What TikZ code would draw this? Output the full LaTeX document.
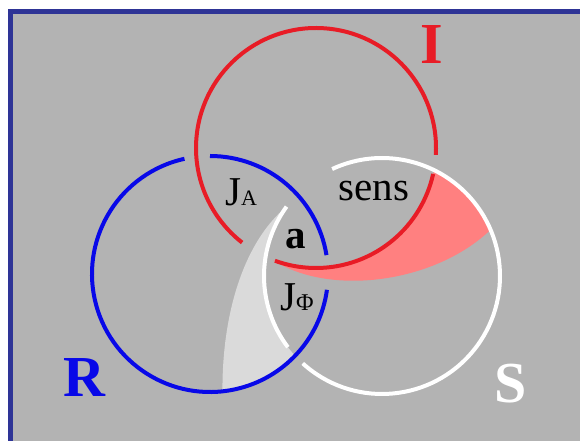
\documentclass[tikz,border=0pt]{standalone}
\usepackage{fontspec}
\setmainfont{Liberation Serif}
\usetikzlibrary{calc}
\definecolor{bggray}{RGB}{179,179,179}
\definecolor{framebl}{RGB}{46,52,150}
\definecolor{ringred}{RGB}{232,28,38}
\definecolor{ringblue}{RGB}{8,8,232}
\definecolor{pinkfill}{RGB}{255,128,128}
\definecolor{lunegray}{RGB}{218,218,218}

\begin{document}
\begin{tikzpicture}[x=1pt,y=1pt,line width=4pt,
    bigletter/.style={inner sep=0pt,font=\bfseries\fontsize{58}{58}\selectfont},
    txt/.style={inner sep=0pt,font=\fontsize{41}{41}\selectfont}]
    \clip (0,0) rectangle (580,441);
    \fill[white] (0,0) rectangle (580,441);
    \fill[bggray] (10.5,-10) rectangle (600,429.5);
    \draw[framebl,line width=5pt] (10.5,-10) -- (10.5,429.5) -- (600,429.5);
    % centres of the three rings
    \coordinate (I) at (316,293);
    \coordinate (R) at (210,167);
    \coordinate (S) at (382,165);
    % shaded pieces
    \fill[pinkfill] ($(I)+(249:120)$) coordinate (p0)
      arc[start angle=249,end angle=349.4,radius=120]
      arc[start angle=63.8,end angle=23,radius=118]
      .. controls (435,158) and (330,144) .. (p0) -- cycle;
    \fill[lunegray] ($(S)+(144:118)$) coordinate (c0)
      arc[start angle=144,end angle=222.6,radius=118]
      arc[start angle=316.1,end angle=276,radius=118]
      .. controls (222,130) and (245,200) .. (c0) -- cycle;
    % rings, with gaps where one passes under another
    \foreach \c/\r/\a/\b/\col in {I/120/-3.3/232/ringred, I/120/250/347.5/ringred,
        R/118/9.2/90/ringblue, R/118/102.5/352.3/ringblue,
        S/118/144/217.1/white, S/118/227.8/475/white}
      \draw[\col] ($(\c)+(\a:\r)$) arc[start angle=\a,end angle=\b,radius=\r];
    % labels
    \node[bigletter,text=ringred] (labI) at (432,396) {I};
    \node[bigletter,text=ringblue] (labR) at (84,63) {R};
    \node[bigletter,text=white] (labS) at (511,57) {S};
    \node[txt] (sens) at (374,250) {sens};
    \node[txt,font=\bfseries\fontsize{41}{41}\selectfont] (a) at (296,202) {a};
    \node[txt,anchor=base] (JA) at (241,235) {J{\fontsize{22}{22}\selectfont A}};
    \node[txt,anchor=base] (JPhi) at (297,130) {J{\fontsize{24}{24}\selectfont Φ}};
\end{tikzpicture}
\end{document}
